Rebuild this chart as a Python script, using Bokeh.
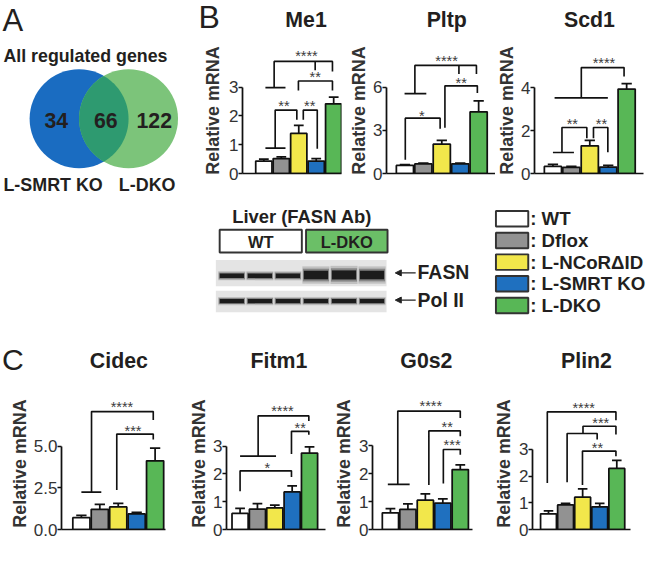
import numpy as np
from bokeh.plotting import figure
from bokeh.models import Range1d, FixedTicker, Arrow, NormalHead
from bokeh.layouts import row, column
from bokeh.core.properties import value
from bokeh.embed import file_html
from bokeh.resources import INLINE

S = 0.97
FONT = "Liberation Sans"
INK = "#231f20"

# ---------------- data ----------------
groups = ["WT", "Dflox", "L-NCoR\u0394ID", "L-SMRT KO", "L-DKO"]
group_colors = ["#ffffff", "#929292", "#f2e74b", "#1f70bf", "#58b756"]

venn_sets = ["L-SMRT KO", "L-DKO"]
venn_counts = [34, 66, 122]

b_titles = ["Me1", "Pltp", "Scd1"]
c_titles = ["Cidec", "Fitm1", "G0s2", "Plin2"]
y_label = "Relative mRNA"

me1_mean = [0.43, 0.52, 1.39, 0.43, 2.42]
me1_sem = [0.07, 0.06, 0.28, 0.09, 0.23]
pltp_mean = [0.56, 0.66, 2.03, 0.66, 4.28]
pltp_sem = [0.06, 0.06, 0.27, 0.06, 0.76]
scd1_mean = [0.33, 0.29, 1.29, 0.30, 3.93]
scd1_sem = [0.09, 0.04, 0.25, 0.08, 0.25]
cidec_mean = [0.71, 1.21, 1.35, 0.93, 4.12]
cidec_sem = [0.13, 0.29, 0.22, 0.10, 0.76]
fitm1_mean = [0.58, 0.73, 0.78, 1.35, 2.75]
fitm1_sem = [0.18, 0.20, 0.10, 0.22, 0.22]
g0s2_mean = [0.60, 0.72, 1.05, 0.95, 2.15]
g0s2_sem = [0.15, 0.20, 0.23, 0.15, 0.17]
plin2_mean = [0.59, 0.92, 1.21, 0.85, 2.29]
plin2_sem = [0.11, 0.06, 0.31, 0.13, 0.30]

ticks_03 = [0, 1, 2, 3]
ticks_03_labels = ["0", "1", "2", "3"]
pltp_ticks = [0, 3, 6]
pltp_tick_labels = ["0", "3", "6"]
scd1_ticks = [0, 2, 4]
scd1_tick_labels = ["0", "2", "4"]
cidec_ticks = [0, 2.5, 5]
cidec_tick_labels = ["0.0", "2.5", "5.0"]

# blot lane band strengths (3 WT lanes, 3 L-DKO lanes)
blot_groups = ["WT", "L-DKO"]
blot_targets = ["FASN", "Pol II"]
fasn_bands = [1.0, 1.0, 1.0, 1.9, 2.0, 1.9]
pol2_bands = [1.0, 1.0, 1.0, 1.0, 1.0, 1.0]

# significance brackets (polylines in data units) and star labels
me1_br = [([0.09, 1.24], [0.88, 0.88]),
          ([0.65, 0.65, 1.89, 1.89], [0.88, 2.2, 2.2, 1.87]),
          ([2.26, 2.26, 3.06, 3.06], [1.87, 2.2, 2.2, 0.86]),
          ([0.09, 1.24], [2.98, 2.98]),
          ([1.98, 1.98, 3.93, 3.93], [2.88, 3.21, 3.21, 2.88]),
          ([0.59, 0.59, 3.93, 3.93], [2.98, 3.89, 3.89, 3.54]),
          ([2.94, 2.94], [3.89, 3.58])]
me1_st = [("**", 1.15, 2.42), ("**", 2.63, 2.42), ("**", 2.94, 3.43), ("****", 2.44, 4.14)]

pltp_br = [([0.02, 0.02, 1.91, 1.91], [0.96, 3.84, 3.84, 3.11]),
           ([-0.02, 1.16], [5.54, 5.54]),
           ([0.54, 0.54, 3.88, 3.88], [5.54, 7.5, 7.5, 6.9]),
           ([2.93, 2.93], [7.5, 6.9]),
           ([2.17, 2.17, 3.93, 3.93], [3.17, 6.08, 6.08, 5.58])]
pltp_st = [("*", 0.91, 4.17), ("**", 3.05, 6.45), ("****", 2.26, 7.93)]

scd1_br = [([0.0, 1.14], [0.98, 0.98]),
           ([0.49, 0.49, 1.84, 1.84], [0.98, 2.14, 2.14, 1.64]),
           ([2.2, 2.2, 2.98, 2.98], [1.64, 2.14, 2.14, 0.99]),
           ([0.09, 2.98], [3.52, 3.52]),
           ([1.54, 1.54, 3.86, 3.86], [3.52, 4.93, 4.93, 4.52])]
scd1_st = [("**", 1.05, 2.42), ("**", 2.63, 2.42), ("****", 2.77, 5.24)]

cidec_br = [([0.0, 1.08], [2.24, 2.24]),
            ([0.55, 0.55, 3.9, 3.9], [2.24, 7.07, 7.07, 6.56]),
            ([1.92, 1.92, 3.9, 3.9], [2.37, 5.72, 5.72, 5.4])]
cidec_st = [("****", 2.2, 7.5), ("***", 2.8, 6.06)]

fitm1_br = [([0.0, 2.07], [2.64, 2.64]),
            ([1.04, 1.04, 3.96, 3.96], [2.64, 4.09, 4.09, 3.9]),
            ([2.96, 2.96, 3.96, 3.96], [2.72, 3.53, 3.53, 3.41]),
            ([0.0, 0.0, 2.96, 2.96], [1.38, 2.11, 2.11, 1.89])]
fitm1_st = [("****", 2.44, 4.33), ("**", 3.46, 3.72), ("*", 1.57, 2.29)]

g0s2_br = [([-0.15, 1.1], [1.62, 1.62]),
           ([0.42, 0.42, 4.0, 4.0], [1.62, 4.25, 4.25, 4.0]),
           ([2.2, 2.2, 4.0, 4.0], [1.6, 3.54, 3.54, 3.35]),
           ([3.03, 3.03, 4.0, 4.0], [1.65, 2.87, 2.87, 2.68])]
g0s2_st = [("****", 2.31, 4.5), ("**", 3.25, 3.76), ("***", 3.53, 3.09)]

plin2_br = [([-0.07, -0.07, 3.95, 3.95], [1.74, 4.41, 4.41, 4.1]),
            ([1.09, 1.09, 2.85, 2.85], [1.77, 3.6, 3.6, 3.37]),
            ([2.02, 2.02, 3.95, 3.95], [3.6, 3.87, 3.87, 3.56]),
            ([1.99, 1.99, 3.95, 3.95], [1.67, 2.94, 2.94, 2.75])]
plin2_st = [("****", 2.06, 4.65), ("***", 3.06, 4.08), ("**", 2.87, 3.13)]

# ---------------- helpers ----------------
def px(v):
    return int(round(v * S))

def fs(v):
    return f"{v * S:.1f}px"

def txt(p, x, y, t, size, bold=True, align="left", color=INK, baseline="middle"):
    p.text(x=x, y=y, text=t, text_font=value(FONT), text_font_size=value(fs(size)),
           text_font_style="bold" if bold else "normal", text_align=align,
           text_baseline=baseline, text_color=color)


def flat_fig(box):
    left, right, top, bottom = box
    p = figure(width=px(right) - px(left), height=px(bottom) - px(top),
               x_range=Range1d(left, right), y_range=Range1d(bottom, top),
               output_backend="svg", toolbar_location=None,
               min_border_left=0, min_border_right=0, min_border_top=0, min_border_bottom=0)
    p.outline_line_color = None
    p.axis.visible = False
    p.grid.visible = False
    return p


def ylabel_strip(left, lab_right, top, bottom, lab_y):
    """Narrow figure whose (tick-less) left axis carries the rotated y title,
    centred on lab_y."""
    right = lab_right + 1
    half = min(lab_y - top, bottom - lab_y)
    W = px(right) - px(left)
    H = px(bottom) - px(top)
    L = px(lab_right) - px(left)
    T = px(lab_y - half) - px(top)
    Bm = px(bottom) - px(lab_y + half)
    p = figure(width=W, height=H, x_range=Range1d(0, 1), y_range=Range1d(0, 1),
               x_axis_location=None, output_backend="svg", toolbar_location=None,
               min_border_left=L, min_border_right=W - L, min_border_top=T, min_border_bottom=Bm)
    p.outline_line_color = None
    p.grid.visible = False
    ax = p.yaxis[0]
    ax.ticker = FixedTicker(ticks=[])
    ax.axis_line_color = None
    ax.major_tick_out = 0
    ax.major_tick_in = 0
    ax.minor_tick_line_color = None
    ax.major_label_text_font_size = "0px"
    ax.major_label_standoff = 0
    ax.axis_label = y_label
    ax.axis_label_standoff = 0
    ax.axis_label_text_font = FONT
    ax.axis_label_text_font_size = fs(18.5)
    ax.axis_label_text_font_style = "bold"
    ax.axis_label_text_color = "#333333"
    return p


def bar_panel(mean, sem, ticks, tick_labels, brackets, stars, g):
    lab_right = g["lab_right"]
    left, right, top, bottom = g["box"]
    lab = ylabel_strip(left, lab_right, top, bottom, g["lab_y"])
    cl = lab_right + 1

    W = px(right) - px(cl)
    H = px(bottom) - px(top)
    L = px(g["axis"]) - px(cl)
    B = px(bottom) - px(g["zero"])
    fw = px(g["axis_end"]) - px(g["axis"])
    R = W - L - fw
    fh = H - B
    x0 = (g["axis"] - g["c0"]) / g["pitch"]
    x1 = x0 + fw / (g["pitch"] * S)
    y1 = fh / (g["ppu"] * S)

    p = figure(width=W, height=H, x_range=Range1d(x0, x1), y_range=Range1d(0, y1),
               output_backend="svg", toolbar_location=None,
               min_border_left=L, min_border_right=R, min_border_top=0, min_border_bottom=B)
    p.outline_line_color = None
    p.xgrid.visible = False
    p.ygrid.visible = False

    xs = list(range(len(groups)))
    p.vbar(x=xs, top=mean, bottom=0, width=0.93, fill_color=group_colors,
           line_color="#111111", line_width=1.8 * S)
    tops = [m + e for m, e in zip(mean, sem)]
    p.segment(x0=xs, y0=mean, x1=xs, y1=tops, line_color="#111111", line_width=1.8 * S)
    p.segment(x0=[x - 0.28 for x in xs], y0=tops, x1=[x + 0.28 for x in xs], y1=tops,
              line_color="#111111", line_width=1.8 * S)

    p.multi_line(xs=[b[0] for b in brackets], ys=[b[1] for b in brackets],
                 line_color="#111111", line_width=1.7 * S)
    p.text(x=[s[1] for s in stars], y=[s[2] - 2.5 / g["ppu"] for s in stars],
           text=[s[0] for s in stars], text_font=value(FONT), text_font_size=value(fs(15)),
           text_align="center", text_baseline="middle", text_color="#3c3c3c")

    yax = p.yaxis[0]
    yax.ticker = FixedTicker(ticks=ticks)
    yax.major_label_overrides = {t: l for t, l in zip(ticks, tick_labels)}
    yax.bounds = (0, max(ticks))
    yax.axis_line_width = 1.8 * S
    yax.axis_line_color = "#111111"
    yax.major_tick_line_width = 1.8 * S
    yax.major_tick_line_color = "#111111"
    yax.major_tick_out = 4
    yax.major_tick_in = 0
    yax.minor_tick_line_color = None
    yax.major_label_standoff = 0
    yax.major_label_text_font = FONT
    yax.major_label_text_font_size = fs(17.5)
    yax.major_label_text_color = "#333333"

    xax = p.xaxis[0]
    xax.ticker = FixedTicker(ticks=[])
    xax.axis_line_width = 1.8 * S
    xax.axis_line_color = "#111111"
    xax.major_tick_out = 0
    xax.major_tick_in = 0
    xax.minor_tick_line_color = None
    xax.major_label_text_font_size = "0px"
    xax.major_label_standoff = 0
    return [lab, p]

# ---------------- panel A: Venn ----------------
va = flat_fig((0, 200, 0, 330))
cx, cy, r = [81, 132], 122, 51
va.circle(x=[cx[0]], y=[cy], radius=r, fill_color="#1a6cc1", line_color=None)
va.circle(x=[cx[1]], y=[cy], radius=r, fill_color="#7cc47a", line_color=None)
d = cx[1] - cx[0]
th = np.arccos(d / 2 / r)
t1 = np.linspace(-th, th, 60)
t2 = np.linspace(np.pi - th, np.pi + th, 60)
lens_x = np.concatenate([cx[0] + r * np.cos(t1), cx[1] + r * np.cos(t2)])
lens_y = np.concatenate([cy + r * np.sin(t1), cy + r * np.sin(t2)])
va.patch(lens_x, lens_y, fill_color="#2e9a70", line_color=None)
txt(va, [57.5, 108.5, 158.5], [124] * 3, [str(c) for c in venn_counts], 22, align="center")
txt(va, [2], [21], ["A"], 32, bold=False)
txt(va, [3], [57], ["All regulated genes"], 18.3)
txt(va, [3, 122], [190, 190], venn_sets, 18.5)

# ---------------- panel B header + charts ----------------
hb = flat_fig((200, 671, 0, 36))
txt(hb, [204], [17], ["B"], 33, bold=False)
txt(hb, [315, 460, 607], [20, 20, 20], b_titles, 22, align="center")

geo_me1 = dict(box=(200, 355, 36, 190), lab_right=229, lab_y=119,
               axis=249, axis_end=352, c0=271, pitch=18, zero=180, ppu=33)
geo_pltp = dict(box=(355, 510, 36, 190), lab_right=379, lab_y=115,
                axis=398, axis_end=510, c0=417, pitch=19, zero=181, ppu=16.63)
geo_scd1 = dict(box=(510, 671, 36, 190), lab_right=532, lab_y=117,
                axis=551, axis_end=663, c0=570, pitch=19, zero=178, ppu=24.25)

me1 = bar_panel(me1_mean, me1_sem, ticks_03, ticks_03_labels, me1_br, me1_st, geo_me1)
pltp = bar_panel(pltp_mean, pltp_sem, pltp_ticks, pltp_tick_labels, pltp_br, pltp_st, geo_pltp)
scd1 = bar_panel(scd1_mean, scd1_sem, scd1_ticks, scd1_tick_labels, scd1_br, scd1_st, geo_scd1)

# ---------------- blot ----------------
bl = flat_fig((200, 500, 190, 330))
txt(bl, [311], [223], ["Liver (FASN Ab)"], 19, align="center")
box_x = [268.3, 357]
bl.rect(x=box_x, y=[248.3, 248.3], width=[84.7, 84], height=23.3,
        fill_color=["#ffffff", "#6bbf67"], line_color="#333333", line_width=2 * S)
txt(bl, box_x, [249, 249], blot_groups, 17, align="center")
lane_x = [238.5 + i * 28.9 for i in range(len(fasn_bands))]
bl.rect(x=[310, 310], y=[281.3, 310.5], width=176, height=[27, 22], fill_color="#e4e4e4", line_color=None)
for wd, hf, al in [(28, 1.7, 0.18), (27, 1.25, 0.35), (25, 0.85, 1.0)]:
    bl.rect(x=lane_x, y=[284 - 0.9 * (b - 1) for b in fasn_bands], width=wd,
            height=[5.5 * b * hf for b in fasn_bands], fill_color="#1c1c1c", fill_alpha=al,
            line_color=None)
    bl.rect(x=lane_x, y=[310] * len(pol2_bands), width=wd,
            height=[5.0 * b * hf for b in pol2_bands], fill_color="#1c1c1c", fill_alpha=al,
            line_color=None)
for yy in (281, 309):
    bl.add_layout(Arrow(end=NormalHead(size=px(6), fill_color="#222222", line_color="#222222"),
                        x_start=428, y_start=yy, x_end=407, y_end=yy,
                        line_color="#222222", line_width=1.2 * S))
txt(bl, [430, 430], [280, 309], blot_targets, 20)

# ---------------- legend ----------------
lg = flat_fig((500, 671, 190, 330))
ly = [225.3 + i * 22.3 for i in range(len(groups))]
lg.rect(x=[527.4] * len(groups), y=ly, width=33.3, height=16, fill_color=group_colors,
        line_color="#333333", line_width=2 * S)
txt(lg, [546] * len(groups), ly, [": " + gname for gname in groups], 19.3)

# ---------------- panel C header + charts ----------------
hc = flat_fig((0, 671, 330, 389))
txt(hc, [1.5], [370], ["C"], 31, bold=False)
txt(hc, [122, 287, 439, 604], [372] * 4, c_titles, 22, align="center")

geo_cidec = dict(box=(0, 175, 389, 561), lab_right=30, lab_y=479,
                 axis=63, axis_end=170, c0=83.5, pitch=19, zero=545, ppu=19.8)
geo_fitm1 = dict(box=(175, 340, 389, 561), lab_right=214, lab_y=480,
                 axis=233, axis_end=335, c0=247, pitch=17.9, zero=545.7, ppu=33)
geo_g0s2 = dict(box=(340, 500, 389, 561), lab_right=364, lab_y=483,
                axis=383, axis_end=487, c0=401.5, pitch=18, zero=546.7, ppu=33.3)
geo_plin2 = dict(box=(500, 671, 389, 561), lab_right=529, lab_y=485,
                 axis=548, axis_end=650, c0=564.5, pitch=17.6, zero=549.3, ppu=32.5)

cidec = bar_panel(cidec_mean, cidec_sem, cidec_ticks, cidec_tick_labels, cidec_br, cidec_st, geo_cidec)
fitm1 = bar_panel(fitm1_mean, fitm1_sem, ticks_03, ticks_03_labels, fitm1_br, fitm1_st, geo_fitm1)
g0s2 = bar_panel(g0s2_mean, g0s2_sem, ticks_03, ticks_03_labels, g0s2_br, g0s2_st, geo_g0s2)
plin2 = bar_panel(plin2_mean, plin2_sem, ticks_03, ticks_03_labels, plin2_br, plin2_st, geo_plin2)

top = row(va, column(hb, row(*me1, *pltp, *scd1), row(bl, lg)))
bottom = column(hc, row(*cidec, *fitm1, *g0s2, *plin2))
p = column(top, bottom)

open("out.html", "w").write(file_html(p, INLINE))
